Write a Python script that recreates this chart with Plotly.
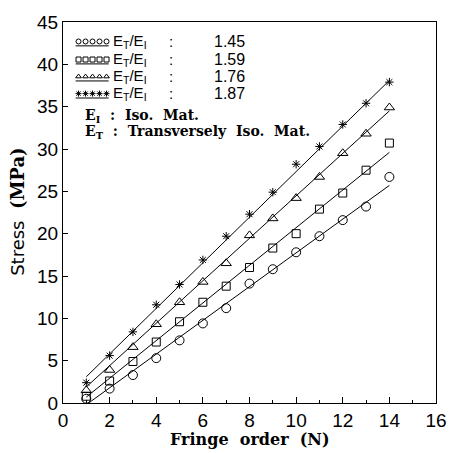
import plotly.graph_objects as go

# ---------------- data ----------------
fringe = [1, 2, 3, 4, 5, 6, 7, 8, 9, 10, 11, 12, 13, 14]
stress_145 = [0.5, 1.7, 3.3, 5.3, 7.4, 9.4, 11.2, 14.1, 15.8, 17.8, 19.7, 21.6, 23.2, 26.7]
stress_159 = [0.8, 2.6, 4.9, 7.2, 9.6, 11.9, 13.8, 16.0, 18.3, 20.0, 22.9, 24.8, 27.5, 30.7]
stress_176 = [1.5, 3.9, 6.6, 9.3, 11.9, 14.3, 16.5, 19.8, 21.8, 24.2, 26.7, 29.5, 31.8, 34.9]
stress_187 = [2.4, 5.6, 8.4, 11.6, 14.0, 16.9, 19.7, 22.3, 24.9, 28.2, 30.3, 32.9, 35.4, 37.9]

ratio_labels = ["1.45", "1.59", "1.76", "1.87"]
fit_x = [1, 14]
fit_145 = [-0.2, 25.7]
fit_159 = [0.7, 29.6]
fit_176 = [1.9, 34.5]
fit_187 = [3.1, 38.1]

x_ticks = [0, 2, 4, 6, 8, 10, 12, 14, 16]
y_ticks = [0, 5, 10, 15, 20, 25, 30, 35, 40, 45]

series = [
    (stress_145, fit_145, "circle-open", 9),
    (stress_159, fit_159, "square-open", 8),
    (stress_176, fit_176, "triangle-up-open", 9),
    (stress_187, fit_187, "asterisk-open", 7),
]

fig = go.Figure()

for ys, fit, sym, sz in series:
    fig.add_trace(go.Scatter(x=fit_x, y=fit, mode="lines",
                             line=dict(color="black", width=1),
                             showlegend=False, hoverinfo="skip", cliponaxis=False))
    fig.add_trace(go.Scatter(x=fringe, y=ys, mode="markers",
                             marker=dict(symbol=sym, size=sz, color="black",
                                         line=dict(color="black", width=1)),
                             showlegend=False, cliponaxis=False))

# ---------------- hand-made legend on an overlay axis (pixel units) -------
W, H = 384, 391
def px(xp):  # absolute page px -> overlay x
    return xp - 63
def py(yp):  # absolute page px -> overlay y
    return 403 - yp

row_y = [32, 50.5, 68, 85.5]
mk_x = [79, 86.2, 93.4, 100.6, 107.8]
leg_size = [5, 5, 5, 5]
for (ys, fit, sym, sz), ry, lab, ls in zip(series, row_y, ratio_labels, leg_size):
    fig.add_trace(go.Scatter(x=[px(v) for v in mk_x], y=[py(ry)] * 5,
                             mode="markers", xaxis="x2", yaxis="y2",
                             marker=dict(symbol=sym, size=ls, color="black",
                                         line=dict(color="black", width=1)),
                             showlegend=False, hoverinfo="skip", cliponaxis=False))
    fig.add_trace(go.Scatter(x=[px(76), px(110)], y=[py(ry + 4.5)] * 2,
                             mode="lines", xaxis="x2", yaxis="y2",
                             line=dict(color="black", width=1),
                             showlegend=False, hoverinfo="skip"))
    fig.add_annotation(x=px(112), y=py(ry), xref="x2", yref="y2",
                       text="E<sub>T</sub>/E<sub>I</sub>", showarrow=False,
                       xanchor="left", yanchor="middle",
                       font=dict(family="Liberation Sans", size=15, color="black"))
    fig.add_annotation(x=px(174), y=py(ry), xref="x2", yref="y2",
                       text=":", showarrow=False, xanchor="center", yanchor="middle",
                       font=dict(family="Liberation Sans", size=15, color="black"))
    fig.add_annotation(x=px(216), y=py(ry), xref="x2", yref="y2",
                       text=lab, showarrow=False, xanchor="left", yanchor="middle",
                       font=dict(family="Liberation Sans", size=16, color="black"))

for ry, txt in [(108, "E<sub>I</sub>  :  Iso.  Mat."),
                (125, "E<sub>T</sub>  :  Transversely  Iso.  Mat.")]:
    fig.add_annotation(x=px(84), y=py(ry), xref="x2", yref="y2",
                       text=txt, showarrow=False, xanchor="left", yanchor="middle",
                       font=dict(family="DejaVu Serif", size=14, color="black",
                                 weight="bold"))

# axis titles
fig.add_annotation(x=0.5, y=-0.095, xref="paper", yref="paper",
                   text="Fringe  order  (N)", showarrow=False,
                   xanchor="center", yanchor="middle",
                   font=dict(family="DejaVu Serif", size=16, color="black", weight="bold"))
fig.add_annotation(x=-0.122, y=0.503, xref="paper", yref="paper",
                   text="Stress  <span style='font-family:DejaVu Serif;font-weight:bold'>(MPa)</span>",
                   showarrow=False, textangle=-90,
                   xanchor="center", yanchor="middle",
                   font=dict(family="DejaVu Sans", size=18, color="black"))

fig.update_layout(
    width=459, height=453,
    margin=dict(l=63, r=12, t=12, b=50, pad=0),
    paper_bgcolor="white", plot_bgcolor="white",
    showlegend=False,
    xaxis=dict(range=[0, 16], tickvals=x_ticks, ticktext=[str(v) for v in x_ticks],
               ticks="inside", ticklen=6, tickwidth=1, tickcolor="black",
               minor=dict(dtick=1, tick0=0, ticks="inside", ticklen=3,
                          tickcolor="black", showgrid=False),
               showline=True, linecolor="black", linewidth=1, mirror=True,
               showgrid=False, zeroline=False,
               tickfont=dict(family="Liberation Sans", size=19, color="black")),
    yaxis=dict(range=[0, 45], tickvals=y_ticks, ticktext=[str(v) for v in y_ticks],
               ticks="inside", ticklen=5, tickwidth=1, tickcolor="black",
               showline=True, linecolor="black", linewidth=1, mirror=True,
               showgrid=False, zeroline=False,
               tickfont=dict(family="Liberation Sans", size=19, color="black")),
    xaxis2=dict(range=[0, W], overlaying="x", visible=False, fixedrange=True),
    yaxis2=dict(range=[0, H], overlaying="y", visible=False, fixedrange=True),
)

fig.write_html("out.html")
